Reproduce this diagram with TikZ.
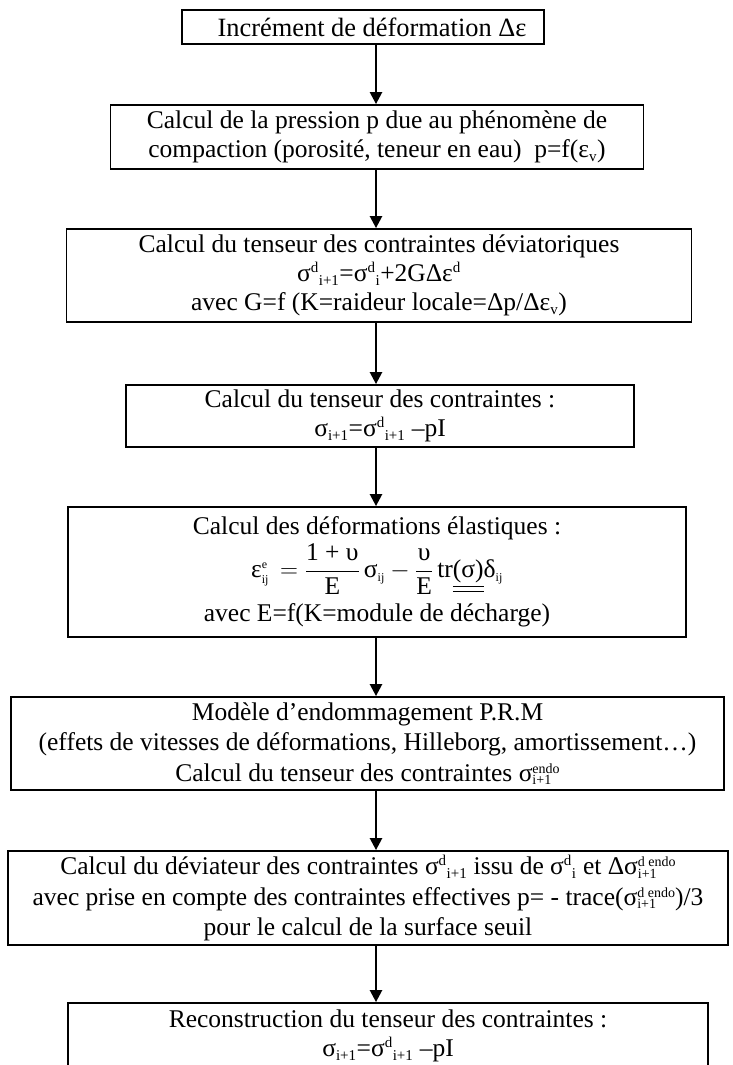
\documentclass[tikz,border=0pt]{standalone}
\usepackage{fontspec}
\setmainfont{Liberation Serif}
\usepackage{amsmath}
\DeclareMathSizes{25.5}{25.5}{15}{12}
\usetikzlibrary{arrows.meta}
\newcommand{\su}[1]{\textsuperscript{#1}}
\newcommand{\sd}[1]{\textsubscript{#1}}
\newcommand{\tx}[1]{\text{#1}}
\newcommand{\scs}[1]{{\scriptscriptstyle\text{#1}}}
\newcommand{\stk}[2]{{\fontsize{14}{14}\selectfont\setbox0\hbox{#1}\setbox2\hbox{#2}%
  \ifdim\wd0>\wd2 \rlap{\raisebox{-3.5pt}{#2}}\raisebox{8pt}{#1}%
  \else\rlap{\raisebox{8pt}{#1}}\raisebox{-3.5pt}{#2}\fi}}
\begin{document}
\begin{tikzpicture}[x=1pt,y=-1pt,
  flowbox/.style={draw=black, line width=1.8pt, inner sep=0pt, align=center,
    font=\fontsize{25.5}{29.3}\selectfont},
  loosebox/.style={flowbox, font=\fontsize{25.5}{30.5}\selectfont},
  flowarrow/.style={line width=2.4pt, -{Triangle[width=12pt,length=12pt]}}]
\useasboundingbox (0,0) rectangle (732,1065);
\coordinate (ax) at (376,0);
\node[flowbox, minimum width=362pt, minimum height=34pt,
  font=\fontsize{26.4}{30}\selectfont] (b1) at (363,27)
  {\hspace*{18pt}Incrément de déformation Δε};
\node[flowbox, minimum width=533pt, minimum height=64pt] (b2) at (377,137)
  {Calcul de la pression p due au phénomène de\\compaction (porosité, teneur en eau)~~p=f(ε\sd{v})};
\node[flowbox, minimum width=625pt, minimum height=93pt] (b3) at (379,275.5)
  {Calcul du tenseur des contraintes déviatoriques\\σ\su{d}\sd{i+1}=σ\su{d}\sd{i}+2GΔε\su{d}\\avec G=f (K=raideur locale=Δp/Δε\sd{v})};
\node[flowbox, minimum width=508pt, minimum height=62pt] (b4) at (380,416)
  {Calcul du tenseur des contraintes :\\σ\sd{i+1}=σ\su{d}\sd{i+1} –pI};
\node[flowbox, minimum width=618pt, minimum height=130pt] (b5) at (377,572)
  {Calcul des déformations élastiques :\\[3pt]
   $\tx{ε}^{\scs{e}}_{\scs{ij}}\, = \dfrac{\tx{1 + υ}}{\tx{E}}\,\tx{σ}_{\scs{ij}} - \dfrac{\tx{υ}}{\tx{E}}\,\tx{tr}\underline{\underline{\tx{(σ)}}}\tx{δ}_{\scs{ij}}$\\[8pt]
   avec E=f(K=module de décharge)};
\node[loosebox, minimum width=713pt, minimum height=93pt] (b6) at (367.5,743.5)
  {Modèle d’endommagement P.R.M\\(effets de vitesses de déformations, Hilleborg, amortissement…)\\Calcul du tenseur des contraintes σ\stk{endo}{i+1}};
\node[loosebox, minimum width=720pt, minimum height=94pt] (b7) at (368,898)
  {Calcul du déviateur des contraintes σ\su{d}\sd{i+1} issu de σ\su{d}\sd{i} et Δσ\stk{d endo}{i+1}\\avec prise en compte des contraintes effectives p= - trace(σ\stk{d endo}{i+1})/3\\pour le calcul de la surface seuil};
\node[flowbox, minimum width=640pt, minimum height=66pt] (b8) at (388,1036)
  {Reconstruction du tenseur des contraintes :\\σ\sd{i+1}=σ\su{d}\sd{i+1} –pI};
\draw[flowarrow] (b1.south -| ax) -- (b2.north -| ax);
\draw[flowarrow] (b2.south -| ax) -- (b3.north -| ax);
\draw[flowarrow] (b3.south -| ax) -- (b4.north -| ax);
\draw[flowarrow] (b4.south -| ax) -- (b5.north -| ax);
\draw[flowarrow] (b5.south -| ax) -- (b6.north -| ax);
\draw[flowarrow] (b6.south -| ax) -- (b7.north -| ax);
\draw[flowarrow] (b7.south -| ax) -- (b8.north -| ax);
\end{tikzpicture}
\end{document}
